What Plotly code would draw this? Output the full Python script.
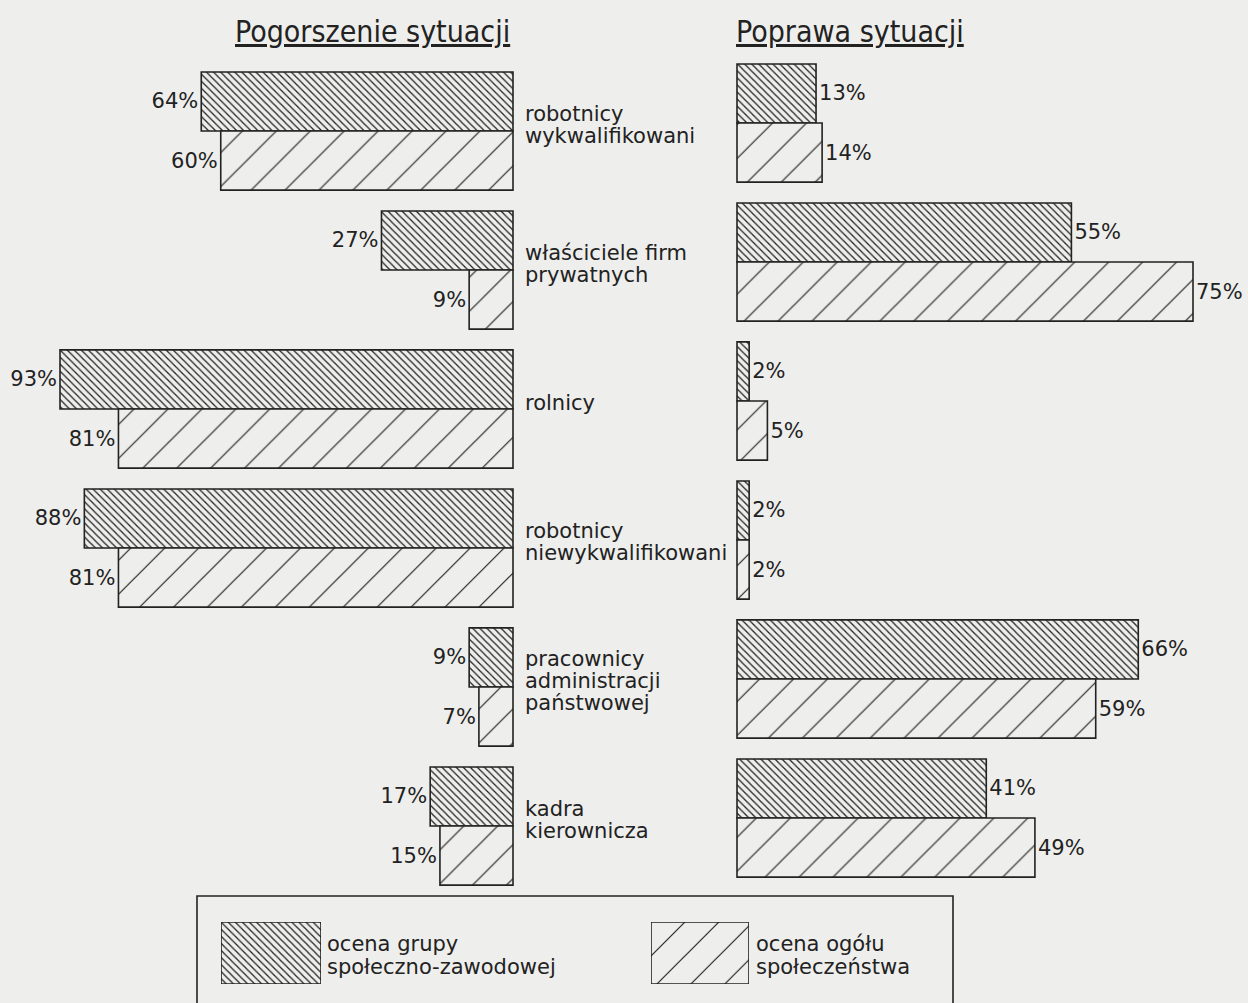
import plotly.graph_objects as go

# ---------------- data ----------------
categories = [
    "robotnicy<br>wykwalifikowani",
    "właściciele firm<br>prywatnych",
    "rolnicy",
    "robotnicy<br>niewykwalifikowani",
    "pracownicy<br>administracji<br>państwowej",
    "kadra<br>kierownicza",
]
worse_group = [64, 27, 93, 88, 9, 17]      # Pogorszenie – ocena grupy
worse_society = [60, 9, 81, 81, 7, 15]     # Pogorszenie – ocena ogółu
better_group = [13, 55, 2, 2, 66, 41]      # Poprawa – ocena grupy
better_society = [14, 75, 5, 2, 59, 49]    # Poprawa – ocena ogółu
series_names = ["ocena grupy<br>społeczno-zawodowej", "ocena ogółu<br>społeczeństwa"]
panel_titles = ["Pogorszenie sytuacji", "Poprawa sytuacji"]

# ---------------- style ----------------
W, H = 1248, 1003
BG = "#eeeeec"
INK = "#222222"
FONT = "DejaVu Sans"
TITLE_FONT = "DejaVu Sans Condensed"

dark_pattern = dict(shape="\\", size=5, solidity=0.25, fgcolor=INK, bgcolor=BG, fillmode="replace")
light_pattern = dict(shape="/", size=24, solidity=0.05, fgcolor=INK, bgcolor=BG, fillmode="replace")

ypos = list(range(len(categories)))


def bar(values, pattern, xa, ya):
    return go.Bar(
        x=values, y=ypos, orientation="h", xaxis=xa, yaxis=ya,
        marker=dict(color=BG, line=dict(color=INK, width=1.6), pattern=pattern),
        text=[f"{v}%" for v in values], textposition="outside",
        textfont=dict(family=FONT, size=21, color=INK),
        constraintext="none", cliponaxis=False, showlegend=False,
        hoverinfo="skip",
    )


fig = go.Figure()
fig.add_trace(bar(worse_group, dark_pattern, "x", "y"))
fig.add_trace(bar(worse_society, light_pattern, "x", "y"))
fig.add_trace(bar(better_group, dark_pattern, "x2", "y2"))
fig.add_trace(bar(better_society, light_pattern, "x2", "y2"))

# legend swatches as tiny subplots
for pat, xa, ya in [(dark_pattern, "x3", "y3"), (light_pattern, "x4", "y4")]:
    fig.add_trace(go.Bar(
        x=[1], y=[0], orientation="h", xaxis=xa, yaxis=ya, width=1,
        marker=dict(color=BG, line=dict(color=INK, width=1.6), pattern=pat),
        showlegend=False, hoverinfo="skip", cliponaxis=False,
    ))

# pixel mapping helpers
pitch = 139.0
def yrange(zero_px):
    return [(H - zero_px) / pitch, -zero_px / pitch]

left_scale = 453 / 93.0   # px per percent
right_scale = 456 / 75.0
left_zero, right_zero = 513, 737

hidden = dict(visible=False, showgrid=False, zeroline=False, fixedrange=True)
fig.update_layout(
    width=W, height=H,
    margin=dict(l=0, r=0, t=0, b=0),
    paper_bgcolor=BG, plot_bgcolor="rgba(0,0,0,0)",
    barmode="group", bargap=0.15, bargroupgap=0,
    xaxis=dict(domain=[0, 0.5], range=[left_zero / left_scale, (left_zero - W / 2) / left_scale], **hidden),
    yaxis=dict(domain=[0, 1], range=yrange(131), anchor="x", **hidden),
    xaxis2=dict(domain=[0.5, 1], range=[(W / 2 - right_zero) / right_scale, (W - right_zero) / right_scale], anchor="y2", **hidden),
    yaxis2=dict(domain=[0, 1], range=yrange(123), anchor="x2", **hidden),
    xaxis3=dict(domain=[221 / W, 321 / W], range=[0, 1], anchor="y3", **hidden),
    yaxis3=dict(domain=[1 - 984 / H, 1 - 922 / H], range=[-0.5, 0.5], anchor="x3", **hidden),
    xaxis4=dict(domain=[651 / W, 749 / W], range=[0, 1], anchor="y4", **hidden),
    yaxis4=dict(domain=[1 - 984 / H, 1 - 922 / H], range=[-0.5, 0.5], anchor="x4", **hidden),
)

annotations = []
# panel titles
for title, xc in zip(panel_titles, [372.5, 849.5]):
    annotations.append(dict(
        text=title, xref="paper", yref="paper", x=xc / W, y=1 - 31 / H,
        xanchor="center", yanchor="middle", showarrow=False,
        font=dict(family=TITLE_FONT, size=30, color=INK, lineposition="under"),
    ))

LINE = 22
# category labels
for i, cat in enumerate(categories):
    lines = cat.split("<br>")
    n = len(lines)
    for k, ln in enumerate(lines):
        off = (k - (n - 1) / 2) * LINE + 2
        annotations.append(dict(
            text=ln, xref="paper", yref="y2", x=523 / W, y=ypos[i], yshift=-off,
            xanchor="left", yanchor="middle", showarrow=False,
            font=dict(family=FONT, size=21, color=INK),
        ))

# legend labels
for name, xl in zip(series_names, [325, 754]):
    lines = name.split("<br>")
    n = len(lines)
    for k, ln in enumerate(lines):
        yc = 955.5 + (k - (n - 1) / 2) * 23
        annotations.append(dict(
            text=ln, xref="paper", yref="paper", x=xl / W, y=1 - yc / H,
            xanchor="left", yanchor="middle", showarrow=False,
            font=dict(family=FONT, size=21, color=INK),
        ))

fig.update_layout(annotations=annotations)

# legend frame
fig.add_shape(type="rect", xref="paper", yref="paper",
              x0=197 / W, x1=953 / W, y0=-0.05, y1=1 - 896 / H,
              line=dict(color=INK, width=1.6), fillcolor="rgba(0,0,0,0)")

fig.write_html(
    "out.html",
    config={"displayModeBar": False, "staticPlot": True},
    post_script="document.body.style.margin='0';document.body.style.background='" + BG + "';",
)
